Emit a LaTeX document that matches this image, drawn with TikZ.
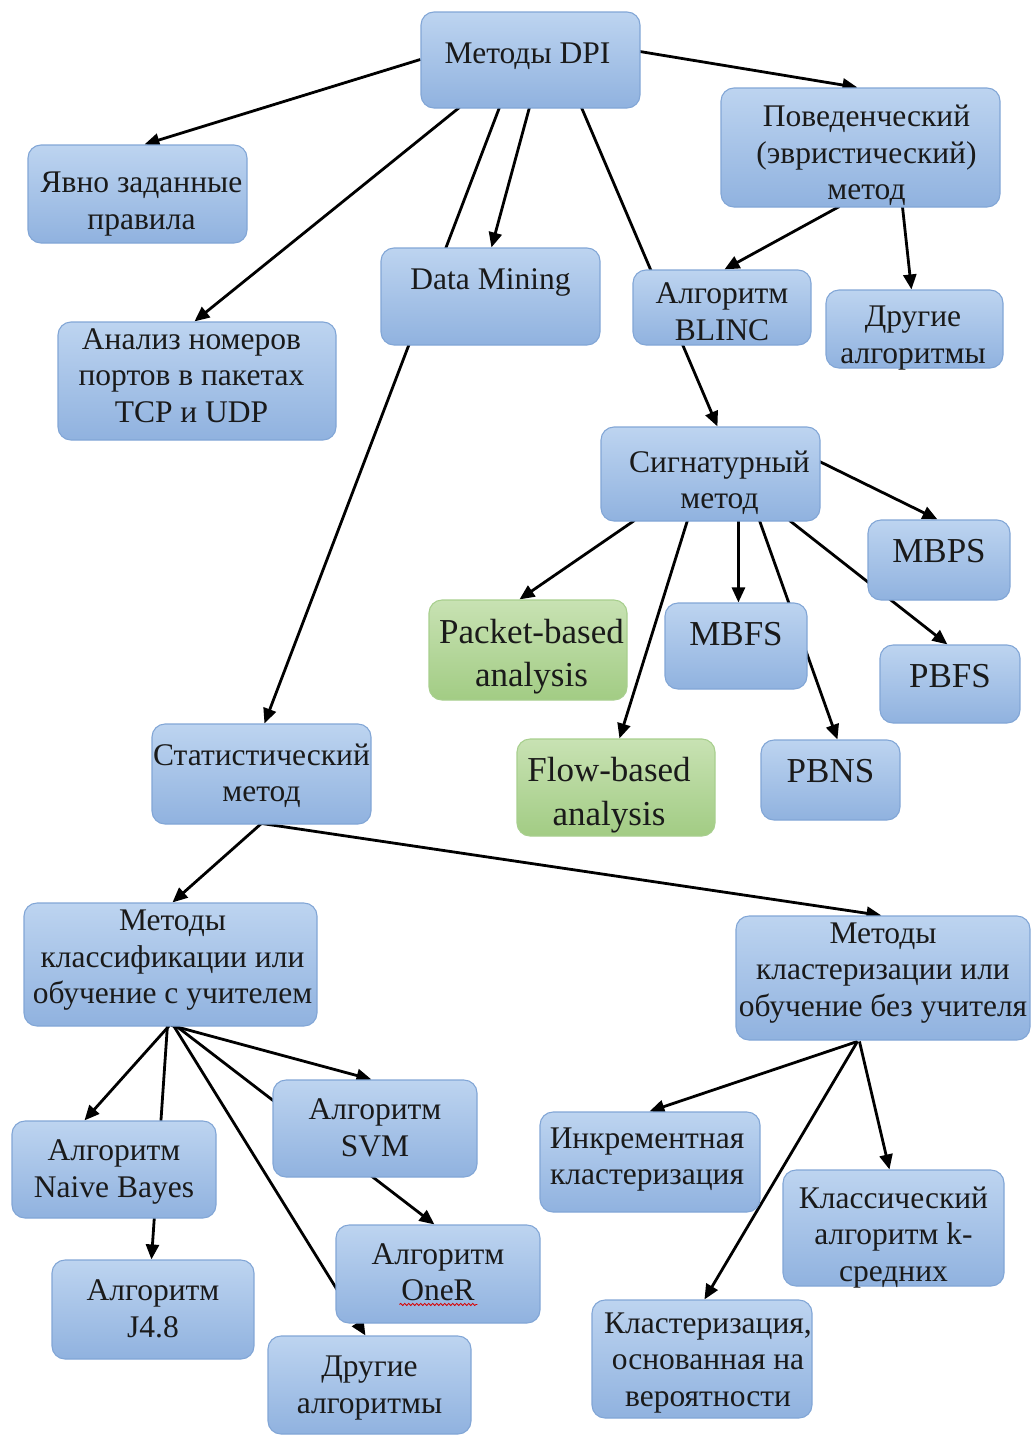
\documentclass[tikz,border=0pt]{standalone}
\usepackage{fontspec}
\setmainfont{Liberation Serif}
\usetikzlibrary{arrows.meta,calc,decorations.pathmorphing}
\pgfdeclarelayer{background}
\pgfsetlayers{background,main}

\definecolor{bluetop}{HTML}{BDD4F0}
\definecolor{bluebot}{HTML}{90B2DF}
\definecolor{blueline}{HTML}{82A6D6}
\definecolor{greentop}{HTML}{C8E2B3}
\definecolor{greenbot}{HTML}{A2CC84}
\definecolor{greenline}{HTML}{A8CF8E}
\definecolor{inktext}{HTML}{1A1A1A}

% single line, lifted without changing its size
\newcommand{\lift}[2]{\raisebox{#1}[\height][\depth]{#2}}
% centred block of lines, moved right by #1 and up by #2
\newcommand{\txt}[3]{\raisebox{\dimexpr#2-3pt\relax}[\height][\depth]{\hspace*{#1}%
  \begin{tabular}{@{}c@{}}#3\end{tabular}\hspace*{-#1}}}

\tikzset{
  card/.style 2 args={rectangle, rounded corners=13pt, line width=1.1pt,
    draw=blueline, top color=bluetop, bottom color=bluebot,
    minimum width=#1, minimum height=#2, inner sep=0pt, align=center,
    text=inktext, font=\fontsize{31.5pt}{36.5pt}\selectfont},
  greencard/.style 2 args={card={#1}{#2}, draw=greenline,
    top color=greentop, bottom color=greenbot,
    font=\fontsize{35pt}{43.5pt}\selectfont},
  bigtext/.style={font=\fontsize{35pt}{43.5pt}\selectfont},
  link/.style={line width=2.8pt, black},
  arrowlink/.style={link, -{Triangle[length=15pt,width=13pt]}}
}

\begin{document}
\begin{tikzpicture}[x=1pt,y=-1pt]
\useasboundingbox (0,0) rectangle (1033,1440);

% boxes
\node[card={219pt}{96pt}]   (dpi)    at (530.5,60)   {\lift{4pt}{\hspace*{-3pt}Методы DPI\hspace*{3pt}}};
\node[card={219pt}{98pt}]   (yavno)  at (137.5,194)  {\txt{4pt}{-6.5pt}{Явно заданные\\правила}};
\node[card={279pt}{119pt}]  (pov)    at (860.5,147.5){\txt{6pt}{-5.5pt}{Поведенческий\\(эвристический)\\метод}};
\node[card={219pt}{97pt}]   (dm)     at (490.5,296.5){\lift{14pt}{Data Mining}};
\node[card={178pt}{75pt}]   (blinc)  at (722,307.5)  {\txt{0pt}{-4pt}{Алгоритм\\BLINC}};
\node[card={177pt}{78pt}]   (dr1)    at (914.5,329)  {\txt{-1.5pt}{-5.5pt}{Другие\\алгоритмы}};
\node[card={278pt}{118pt}]  (ports)  at (197,381)    {\txt{-5.5pt}{5.5pt}{Анализ номеров\\портов в пакетах\\TCP и UDP}};
\node[card={219pt}{94pt}]   (sig)    at (710.5,474)  {\txt{9pt}{-6pt}{Сигнатурный\\метод}};
\node[card={142pt}{80pt},bigtext]  (mbps) at (939,560)   {\lift{9pt}{MBPS}};
\node[greencard={198pt}{100pt}]    (pkt)  at (528,650)   {\txt{3.5pt}{-3.5pt}{Packet-based\\analysis}};
\node[card={142pt}{86pt},bigtext]  (mbfs) at (736,646)   {\lift{12pt}{MBFS}};
\node[card={140pt}{78pt},bigtext]  (pbfs) at (950,684)   {\lift{8pt}{PBFS}};
\node[greencard={198pt}{97pt}]     (flow) at (616,787.5) {\txt{-7pt}{-4.5pt}{Flow-based\\analysis}};
\node[card={139pt}{80pt},bigtext]  (pbns) at (830.5,780) {\lift{9pt}{PBNS}};
\node[card={219pt}{100pt}]  (stat)   at (261.5,774)  {\txt{0pt}{1pt}{Статистический\\метод}};
\node[card={293pt}{123pt}]  (cls)    at (170.5,964.5){\txt{2pt}{7.5pt}{Методы\\классификации или\\обучение с учителем}};
\node[card={294pt}{124pt}]  (clu)    at (883,978)    {\txt{0pt}{8.5pt}{Методы\\кластеризации или\\обучение без учителя}};
\node[card={204pt}{97pt}]   (nb)     at (114,1169.5) {\txt{0pt}{1pt}{Алгоритм\\Naive Bayes}};
\node[card={204pt}{97pt}]   (svm)    at (375,1128.5) {\txt{0pt}{1pt}{Алгоритм\\SVM}};
\node[card={202pt}{99pt}]   (j48)    at (153,1309.5) {\txt{0pt}{1pt}{Алгоритм\\J4.8}};
\node[card={204pt}{98pt}]   (oner)   at (438,1274)   {\txt{0pt}{2pt}{Алгоритм\\OneR}};
\node[card={203pt}{98pt}]   (dr2)    at (369.5,1385) {\txt{0pt}{0.5pt}{Другие\\алгоритмы}};
\node[card={220pt}{100pt}]  (inc)    at (650,1162)   {\txt{-3pt}{6pt}{Инкрементная\\кластеризация}};
\node[card={221pt}{116pt}]  (kmeans) at (893.5,1228) {\txt{0pt}{-6.5pt}{Классический\\алгоритм k-\\средних}};
\node[card={220pt}{118pt}]  (prob)   at (702,1359)   {\txt{6pt}{-0.5pt}{Кластеризация,\\основанная на\\вероятности}};

% spell-check underline under "OneR"
\draw[red!85!black, line width=0.8pt, decorate,
      decoration={snake, amplitude=1.1pt, segment length=4pt}]
  ($(oner.north west)+(64,80)$) -- ($(oner.north west)+(142,80)$);

% connectors (drawn behind the boxes)
\begin{pgfonlayer}{background}
\draw[arrowlink] ($(dpi.north west)+(0,48)$)    -- ($(yavno.north west)+(117,0)$);
\draw[arrowlink] ($(dpi.north west)+(219,40)$)  -- ($(pov.north west)+(137,0)$);
\draw[arrowlink] ($(dpi.north west)+(39,96)$)   -- ($(ports.north west)+(137,0)$);
\draw[arrowlink] ($(dpi.north west)+(79,96)$)   -- ($(stat.north west)+(113,0)$);
\draw[arrowlink] ($(dpi.north west)+(109,96)$)  -- ($(dm.north west)+(111,0)$);
\draw[arrowlink] ($(dpi.north west)+(161,96)$)  -- ($(sig.north west)+(117,0)$);

\draw[arrowlink] ($(pov.north west)+(119,119)$) -- ($(blinc.north west)+(92,0)$);
\draw[arrowlink] ($(pov.north west)+(182,119)$) -- ($(dr1.north west)+(86,0)$);

\draw[arrowlink] ($(sig.north west)+(219,35)$)  -- ($(mbps.north west)+(70,0)$);
\draw[arrowlink] ($(sig.north west)+(34,94)$)   -- ($(pkt.north west)+(91,0)$);
\draw[arrowlink] ($(sig.north west)+(87,94)$)   -- ($(flow.north west)+(103,0)$);
\draw[arrowlink] ($(sig.north west)+(138,94)$)  -- ($(mbfs.north west)+(74,0)$);
\draw[arrowlink] ($(sig.north west)+(159,94)$)  -- ($(pbns.north west)+(77,0)$);
\draw[arrowlink] ($(sig.north west)+(189,94)$)  -- ($(pbfs.north west)+(68,0)$);

\draw[arrowlink] ($(stat.north west)+(110,100)$) -- ($(cls.north west)+(149,0)$);
\draw[arrowlink] ($(stat.north west)+(110,100)$) -- ($(clu.north west)+(146,0)$);

\draw[arrowlink] ($(cls.north west)+(146,123)$) -- ($(nb.north west)+(73,0)$);
\draw[arrowlink] ($(cls.north west)+(144,123)$) -- ($(j48.north west)+(100,0)$);
\draw[arrowlink] ($(cls.north west)+(148,123)$) -- ($(svm.north west)+(99,0)$);
\draw[arrowlink] ($(cls.north west)+(152,123)$) -- ($(oner.north west)+(99,0)$);
\draw[arrowlink] ($(cls.north west)+(150,123)$) -- ($(dr2.north west)+(98,0)$);

\draw[arrowlink] ($(clu.north west)+(122,126)$) -- ($(inc.north west)+(110,0)$);
\draw[arrowlink] ($(clu.north west)+(122,126)$) -- ($(prob.north west)+(113,0)$);
\draw[arrowlink] ($(clu.north west)+(124,126)$) -- ($(kmeans.north west)+(107,0)$);
\end{pgfonlayer}
\end{tikzpicture}
\end{document}
